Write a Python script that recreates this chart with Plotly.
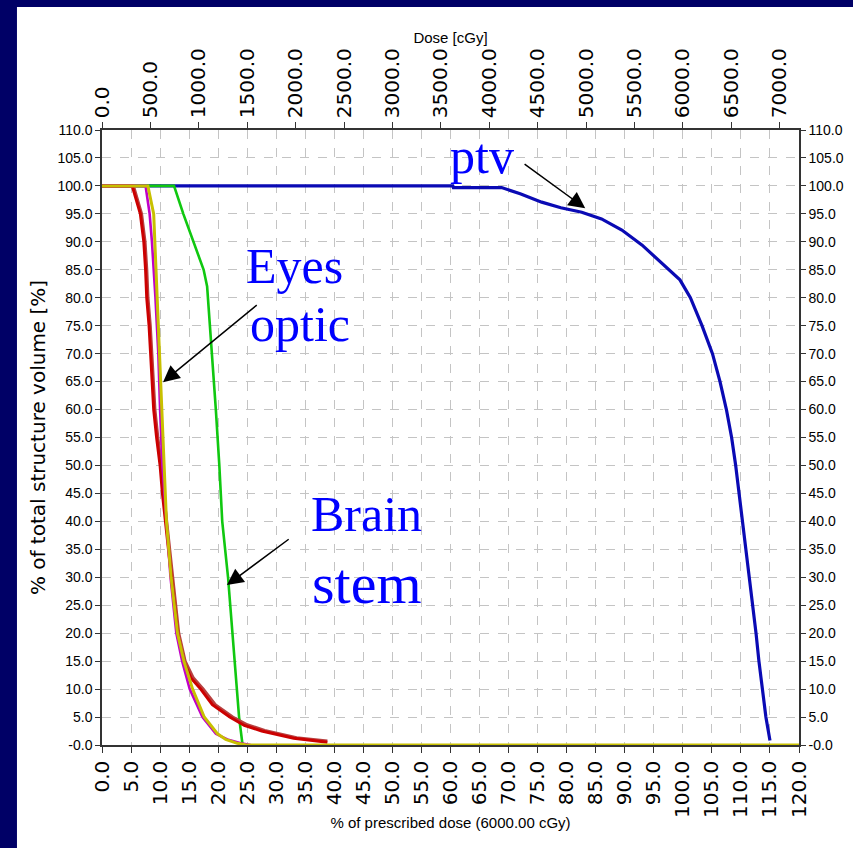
import plotly.graph_objects as go

# ---------------- data ----------------
pct_ticks = [i * 5 for i in range(25)]                 # 0 .. 120 % of prescribed dose
pct_labels = [f"{v:.1f}" for v in pct_ticks]
vol_ticks = [i * 5 for i in range(23)]                 # 0 .. 110 % volume
vol_labels = ["-0.0"] + [f"{v:.1f}" for v in vol_ticks[1:]]
dose_ticks = [i * 500 for i in range(15)]              # 0 .. 7000 cGy
dose_labels = [f"{v:.1f}" for v in dose_ticks]

ptv_dose = [0, 60.4, 60.5, 68.8, 72.0, 75.7, 79.0, 82.6, 86.0, 89.5, 93.0, 96.4, 99.5, 101.3,
            103.3, 105.1, 106.4, 107.5, 108.4, 109.1, 109.7, 110.3, 110.8, 111.4, 112.0,
            112.6, 113.1, 113.7, 114.3, 115.0]
ptv_vol = [100, 100, 99.7, 99.7, 98.6, 97.1, 96.1, 95.3, 94.1, 92.1, 89.4, 86.2, 83.2, 80,
           75, 70, 65, 60, 55, 50, 45, 40, 35, 30, 25, 20, 15, 10, 5, 0.8]

stem_dose = [0, 12.4, 14.0, 15.8, 17.5, 18.1, 18.6, 19.0, 19.6, 20.2, 20.7, 21.7, 22.5, 23.2, 23.6, 24.2]
stem_vol = [100, 100, 95, 90, 85, 82, 75, 70, 60, 50, 40, 30, 20, 10, 5, 0]

eye1_dose = [0, 5.2, 6.6, 7.2, 7.5, 7.7, 8.1, 8.4, 8.6, 8.9, 9.4, 10.0, 10.4, 10.9, 11.4, 12.0,
             12.4, 13.0, 14.0, 15.3, 17.0, 19.0, 22.0, 24.5, 27.5, 33.0, 38.8]
eye1_vol = [100, 100, 95, 90, 85, 80, 75, 70, 65, 60, 55, 50, 45, 40, 35, 30,
            25, 20, 15, 12, 10, 7.2, 5, 3.5, 2.5, 1.2, 0.5]

eye2_dose = [0, 5.4, 6.8, 7.4, 7.7, 7.9, 8.3, 8.6, 8.8, 9.1, 9.6, 10.2, 10.6, 11.1, 11.6, 12.2,
             12.6, 13.2, 14.3, 15.7, 17.4, 19.5, 22.5, 25.0, 28.0, 33.5, 38.8]
eye2_vol = [100, 100, 95, 90, 85, 80, 75, 70, 65, 60, 55, 50, 45, 40, 35, 30,
            25, 20, 15, 12, 10, 7.2, 5, 3.6, 2.6, 1.3, 0.7]

optic1_dose = [0, 7.5, 8.2, 8.6, 9.2, 9.7, 10.0, 10.4, 11.1, 11.8, 12.8, 13.8, 15.1, 17.3,
               19.6, 21.6, 23.9, 25.6]
optic1_vol = [100, 100, 95, 90, 80, 70, 60, 50, 40, 30, 20, 15, 10, 5, 2, 1, 0.3, 0]

optic2_dose = [0, 7.9, 8.9, 9.1, 9.5, 10.0, 10.4, 10.7, 11.1, 11.9, 13.0, 14.1, 15.6, 17.6,
               19.9, 21.3, 23.3, 24.8, 120]
optic2_vol = [100, 100, 95, 90, 80, 70, 60, 50, 40, 30, 20, 15, 10, 5, 2, 1, 0.3, 0, 0]

# ---------------- figure ----------------
NAVY = "#000066"
fig = go.Figure()

series = [
    (ptv_dose, ptv_vol, "#0a0ab4", 3.2),
    (stem_dose, stem_vol, "#10c810", 2.6),
    (eye2_dose, eye2_vol, "#b84040", 3.2),
    (eye1_dose, eye1_vol, "#cc0000", 3.0),
    (optic1_dose, optic1_vol, "#c000c8", 2.6),
    (optic2_dose, optic2_vol, "#c8c000", 3.0),
]
for xs, ys, col, w in series:
    fig.add_trace(go.Scatter(x=xs, y=ys, mode="lines", line=dict(color=col, width=w),
                             showlegend=False, hoverinfo="skip"))

# empty traces so that the secondary (top / right) axes are drawn
fig.add_trace(go.Scatter(x=[], y=[], xaxis="x2", yaxis="y", showlegend=False, hoverinfo="skip"))
fig.add_trace(go.Scatter(x=[], y=[], xaxis="x", yaxis="y2", showlegend=False, hoverinfo="skip"))

tick_font = dict(family="Liberation Sans, Arial, sans-serif", size=14, color="#000000")
vert_font = dict(family="DejaVu Sans, sans-serif", size=20, color="#000000")
title_font = dict(family="Liberation Sans, Arial, sans-serif", size=15, color="#000000")
ytitle_font = dict(family="DejaVu Sans, sans-serif", size=20, color="#000000")
grid = dict(showgrid=True, gridcolor="#c4c4c4", griddash="dash", gridwidth=1)
AX = "#333333"

fig.update_layout(
    width=853, height=848,
    margin=dict(l=102, r=54, t=130, b=103),
    paper_bgcolor=NAVY, plot_bgcolor="#ffffff",
    showlegend=False,
    xaxis=dict(range=[0, 120], tickvals=pct_ticks, ticktext=pct_labels, tickangle=-90,
               ticks="outside", ticklen=6, tickcolor=AX, showline=True,
               linecolor=AX, linewidth=1.5, zeroline=False, tickfont=vert_font,
               title=dict(text="% of prescribed dose (6000.00 cGy)", font=title_font, standoff=0),
               anchor="y", automargin=False, **grid),
    yaxis=dict(range=[0, 110], tickvals=vol_ticks, ticktext=vol_labels,
               ticks="outside", ticklen=5, tickcolor=AX, showline=True,
               linecolor=AX, linewidth=1.5, zeroline=False, tickfont=tick_font,
               title=dict(text="% of total structure volume [%]", font=ytitle_font, standoff=6),
               anchor="x", automargin=False, **grid),
    xaxis2=dict(range=[0, 7200], overlaying="x", side="top", anchor="y",
                tickvals=dose_ticks, ticktext=dose_labels, tickangle=-90,
                ticks="outside", ticklen=6, tickcolor=AX, showline=True,
                linecolor=AX, linewidth=1.5, zeroline=False, showgrid=False,
                tickfont=vert_font, automargin=False,
                title=dict(text="Dose [cGy]", font=title_font, standoff=1)),
    yaxis2=dict(range=[0, 110], overlaying="y", side="right", anchor="x",
                tickvals=vol_ticks, ticktext=vol_labels, ticks="outside", ticklen=5,
                tickcolor=AX, showline=True, linecolor=AX, linewidth=1.5,
                zeroline=False, showgrid=False, tickfont=tick_font, automargin=False),
)

# white panel over the navy page
fig.add_shape(type="rect", xref="paper", yref="paper", x0=-0.122, x1=1.2, y0=-0.3, y1=1.2,
              fillcolor="#ffffff", line=dict(width=0), layer="below")

serif = "Liberation Serif, Times New Roman, serif"
labels = [("ptv", 65.4, 105.3, 50), ("Eyes", 33.2, 85.7, 50), ("optic", 34.1, 75.3, 50),
          ("Brain", 45.5, 41.3, 50), ("stem", 45.6, 28.8, 58)]
for txt, x, y, s in labels:
    fig.add_annotation(x=x, y=y, xref="x", yref="y", text=txt, showarrow=False,
                       font=dict(family=serif, size=s, color="#0000ff"),
                       xanchor="center", yanchor="middle")

arrows = [((72.5, 104.1), (83.2, 96.0)), ((26.9, 78.9), (10.5, 64.9)), ((32.4, 37.0), (21.5, 28.6))]
for (tx, ty), (hx, hy) in arrows:
    fig.add_annotation(x=hx, y=hy, ax=tx, ay=ty, xref="x", yref="y", axref="x", ayref="y",
                       text="", showarrow=True, arrowhead=2, arrowsize=2.2, arrowwidth=1.5,
                       arrowcolor="#000000", standoff=0)

fig.write_html("out.html")
